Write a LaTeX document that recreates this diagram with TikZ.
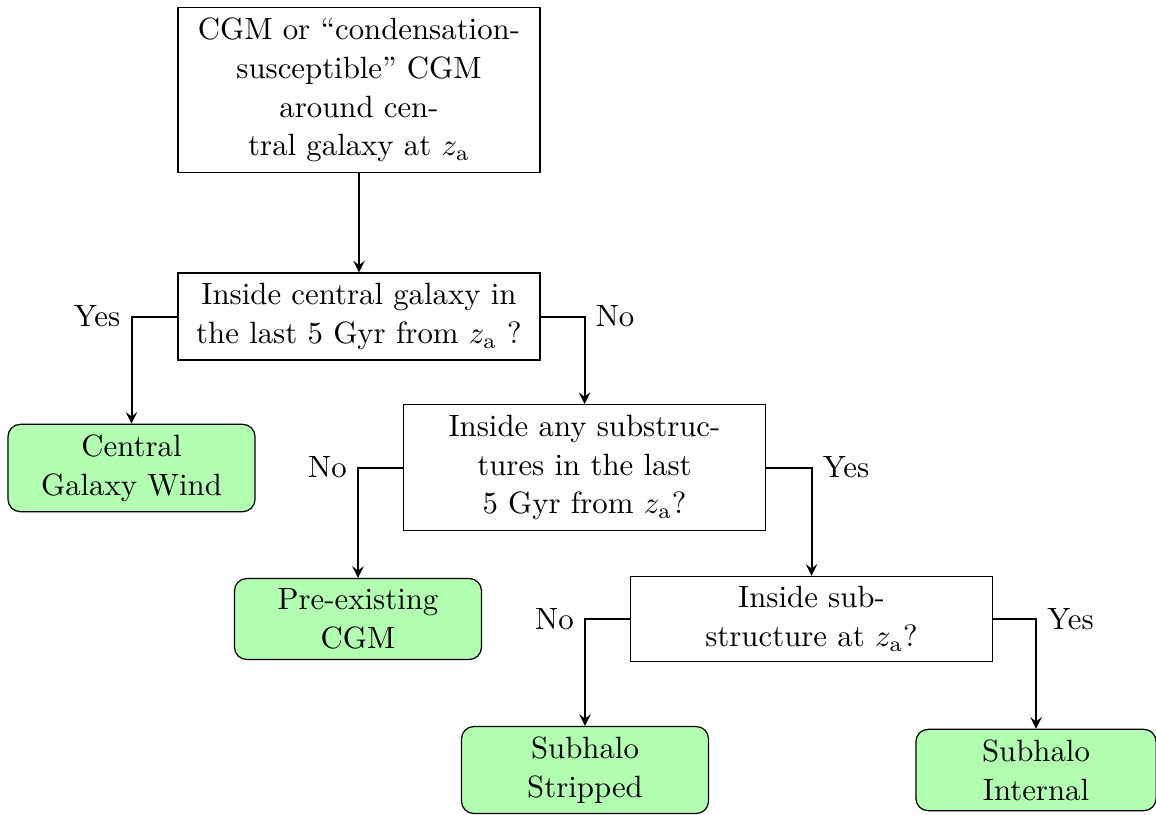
\documentclass[tikz,border=0pt]{standalone}
\usetikzlibrary{arrows}
\begin{document}
\begin{tikzpicture}[x=0.32468pt,y=-0.32468pt,
  txt/.style={font=\fontsize{10}{12.6}\selectfont},
  qbox/.style={txt, draw, line width=0.4pt, rectangle, align=center, minimum width=117.5pt, inner sep=3.33pt},
  endbox/.style={txt, draw, line width=0.4pt, rectangle, rounded corners=4pt, fill=green!30, align=center, minimum width=80.2pt, inner sep=3.33pt},
  conn/.style={draw, line width=0.65pt, ->, >=stealth}]
\useasboundingbox (0,0) rectangle (1156,814);
\node[qbox] (top) at (359,90) {CGM or “condensation-\\susceptible” CGM\\around cen-\\tral galaxy at $z_\mathrm{a}$};
\node[qbox] (d1) at (359,316.5) {Inside central galaxy in\\the last 5 Gyr from $z_\mathrm{a}$ ?};
\node[endbox] (cgw) at (131.5,468) {Central\\Galaxy Wind};
\node[qbox] (d2) at (584.5,467.5) {Inside any substruc-\\tures in the last\\5 Gyr from $z_\mathrm{a}$?};
\node[endbox] (pre) at (358,619) {Pre-existing\\CGM};
\node[qbox] (d3) at (811.5,619) {Inside sub-\\structure at $z_\mathrm{a}$?};
\node[endbox] (strip) at (585,770) {Subhalo\\Stripped};
\node[endbox, minimum width=78pt] (intern) at (1036,770) {Subhalo\\Internal};
\draw[conn] (top) -- (d1);
\draw[conn] (d1.west) -| node[pos=0.5,left] (l1) {Yes} (cgw.north);
\draw[conn] (d1.east) -| node[pos=0.5,right] (l2) {No} (d2.north);
\draw[conn] (d2.west) -| node[pos=0.5,left] (l3) {No} (pre.north);
\draw[conn] (d2.east) -| node[pos=0.5,right] (l4) {Yes} (d3.north);
\draw[conn] (d3.west) -| node[pos=0.5,left] (l5) {No} (strip.north);
\draw[conn] (d3.east) -| node[pos=0.5,right] (l6) {Yes} (intern.north);
\end{tikzpicture}
\end{document}
